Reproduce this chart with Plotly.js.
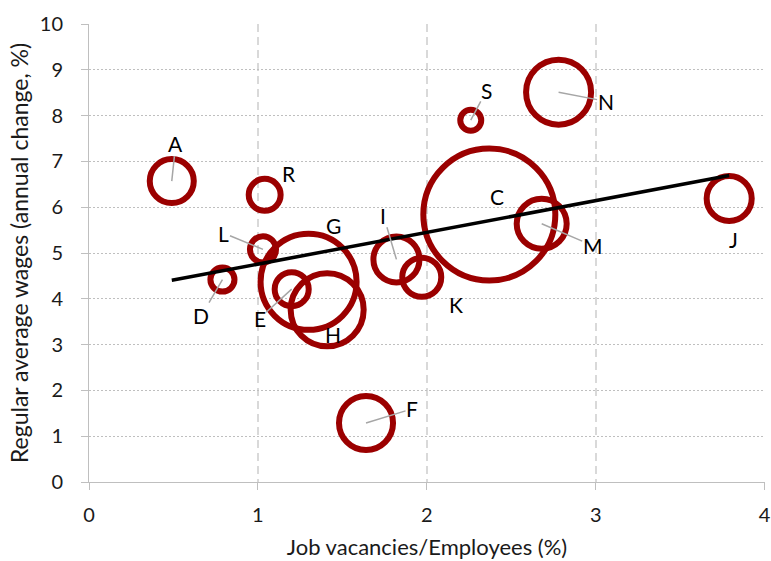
<!DOCTYPE html>
<html>
<head>
<meta charset="utf-8">
<script src="https://cdn.plot.ly/plotly-3.0.1.min.js"></script>
<style>
  html, body { margin: 0; padding: 0; background: #ffffff; }
  #chart { width: 771px; height: 561px; }
</style>
</head>
<body>
<div id="chart"></div>
<script>
// ---- Data ----
const sectorLabels = ['A', 'R', 'L', 'D', 'E', 'G', 'H', 'I', 'K', 'C', 'S', 'N', 'M', 'J', 'F'];
const vacancyRate  = [0.49, 1.04, 1.03, 0.79, 1.20, 1.30, 1.41, 1.82, 1.97, 2.37, 2.26, 2.78, 2.68, 3.79, 1.64];
const wageGrowth   = [6.57, 6.27, 5.08, 4.42, 4.21, 4.37, 3.76, 4.86, 4.47, 5.84, 7.90, 8.51, 5.64, 6.19, 1.29];
const bubbleWeight = [194, 102, 68, 58, 116, 922, 533, 212, 152, 1742, 44, 423, 250, 203, 292];
const xTickVals = [0, 1, 2, 3, 4];
const yTickVals = [0, 1, 2, 3, 4, 5, 6, 7, 8, 9, 10];

// ---- Label placement (pixel offsets of each label from its bubble, and whether a leader line is shown) ----
const labelPlacement = {
  A: { dx: 4,   dy: -38, leader: true  },
  R: { dx: 24,  dy: -21, leader: false },
  L: { dx: -39, dy: -16, leader: true  },
  D: { dx: -21, dy: 36,  leader: true  },
  E: { dx: -32, dy: 29,  leader: true  },
  G: { dx: 25,  dy: -56, leader: false },
  H: { dx: 6,   dy: 25,  leader: false },
  I: { dx: -13, dy: -44, leader: true  },
  K: { dx: 34,  dy: 27,  leader: false },
  C: { dx: 8,   dy: -18, leader: false },
  S: { dx: 16,  dy: -30, leader: true  },
  N: { dx: 47,  dy: 9,   leader: true  },
  M: { dx: 51,  dy: 22,  leader: true  },
  J: { dx: 4,   dy: 41,  leader: false },
  F: { dx: 46,  dy: -14, leader: true  }
};

// ---- Linear trend line (ordinary least squares over the points) ----
const n = vacancyRate.length;
const mx = vacancyRate.reduce((a, b) => a + b, 0) / n;
const my = wageGrowth.reduce((a, b) => a + b, 0) / n;
let sxy = 0, sxx = 0;
for (let i = 0; i < n; i++) {
  sxy += (vacancyRate[i] - mx) * (wageGrowth[i] - my);
  sxx += (vacancyRate[i] - mx) * (vacancyRate[i] - mx);
}
const slope = sxy / sxx;
const intercept = my - slope * mx;
const xMin = Math.min(...vacancyRate);
const xMax = Math.max(...vacancyRate);
const trendX = [xMin, xMax];
const trendY = trendX.map(v => intercept + slope * v);

const FONT = 'Lato, "Open Sans", sans-serif';
const RED = '#9b0000';
const TXT = '#1a1a1a';

const bubbles = {
  type: 'scatter',
  mode: 'markers',
  x: vacancyRate,
  y: wageGrowth,
  text: sectorLabels,
  hoverinfo: 'text+x+y',
  marker: {
    size: bubbleWeight,
    sizemode: 'area',
    sizeref: 0.2,
    opacity: 1,
    color: 'rgba(0,0,0,0)',
    line: { color: RED, width: 6 }
  },
  showlegend: false,
  cliponaxis: false
};

const trend = {
  type: 'scatter',
  mode: 'lines',
  x: trendX,
  y: trendY,
  line: { color: '#000000', width: 3.5 },
  hoverinfo: 'skip',
  showlegend: false
};

const annotations = sectorLabels.map((lab, i) => {
  const p = labelPlacement[lab];
  return {
    x: vacancyRate[i],
    y: wageGrowth[i],
    xref: 'x', yref: 'y',
    text: lab,
    showarrow: true,
    arrowhead: 0,
    arrowwidth: 1.5,
    arrowcolor: p.leader ? '#a6a6a6' : 'rgba(0,0,0,0)',
    standoff: 0,
    startstandoff: 0,
    ax: p.dx,
    ay: p.dy,
    axref: 'pixel', ayref: 'pixel',
    font: { family: FONT, size: 21, color: '#000000' },
    borderpad: 0
  };
});

const layout = {
  width: 771,
  height: 561,
  margin: { l: 89, r: 6, t: 24, b: 79, pad: 0 },
  paper_bgcolor: '#ffffff',
  plot_bgcolor: '#ffffff',
  font: { family: FONT, color: TXT },
  xaxis: {
    range: [0, 4.002],
    tickvals: xTickVals,
    ticktext: xTickVals.map(String),
    showgrid: true,
    gridcolor: '#d9d9d9',
    gridwidth: 2,
    griddash: '8px,5px',
    zeroline: false,
    showline: true,
    linecolor: '#bfbfbf',
    linewidth: 1,
    ticks: 'outside',
    ticklen: 7,
    tickcolor: '#bfbfbf',
    tickwidth: 1,
    ticklabelstandoff: 8,
    ticklabeloverflow: 'allow',
    tickfont: { family: FONT, size: 20, color: TXT },
    automargin: false,
    title: { text: 'Job vacancies/Employees (%)', font: { family: FONT, size: 22, color: TXT }, standoff: 14 },
    fixedrange: true
  },
  yaxis: {
    range: [0, 10],
    tickvals: yTickVals,
    ticktext: yTickVals.map(String),
    showgrid: true,
    gridcolor: '#bfbfbf',
    gridwidth: 1,
    griddash: '2px,2px',
    zeroline: false,
    showline: true,
    linecolor: '#bfbfbf',
    linewidth: 1,
    ticks: 'outside',
    ticklen: 7,
    tickcolor: '#bfbfbf',
    tickwidth: 1,
    ticklabelstandoff: 14,
    ticklabeloverflow: 'allow',
    tickfont: { family: FONT, size: 20, color: TXT },
    automargin: false,
    title: { text: 'Regular average wages (annual change, %)', font: { family: FONT, size: 23, color: TXT }, standoff: 4 },
    fixedrange: true
  },
  annotations: annotations,
  showlegend: false
};

Plotly.newPlot('chart', [bubbles, trend], layout, { displayModeBar: false, staticPlot: true });
</script>
</body>
</html>
